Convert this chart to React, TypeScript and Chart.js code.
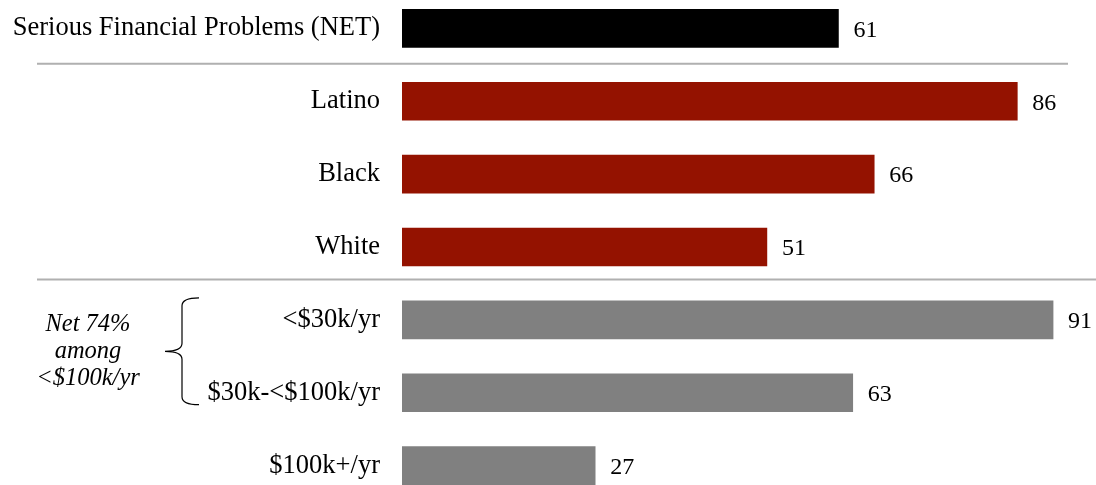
import React, { useEffect, useRef } from "react";
import { Chart, registerables } from "chart.js";

Chart.register(...registerables);

const categories = [
  "Serious Financial Problems (NET)",
  "Latino",
  "Black",
  "White",
  "<$30k/yr",
  "$30k-<$100k/yr",
  "$100k+/yr",
];
const values = [61, 86, 66, 51, 91, 63, 27];
const barColors = ["#000000", "#941200", "#941200", "#941200", "#808080", "#808080", "#808080"];
const annotationLines = ["Net 74%", "among", "<$100k/yr"];

const FONT = "'Liberation Serif', 'Times New Roman', serif";

const decorPlugin = {
  id: "decor",
  afterDatasetsDraw(chart: any) {
    const ctx = chart.ctx;
    const y = chart.scales.y;
    const meta = chart.getDatasetMeta(0);
    ctx.save();
    // category labels
    ctx.font = `26.5px ${FONT}`;
    ctx.fillStyle = "#000";
    ctx.textAlign = "right";
    ctx.textBaseline = "middle";
    categories.forEach((c, i) => {
      ctx.fillText(c, chart.chartArea.left - 22, y.getPixelForValue(i));
    });
    // value labels
    ctx.font = `24px ${FONT}`;
    ctx.textAlign = "left";
    meta.data.forEach((bar: any, i: number) => {
      ctx.fillText(String(values[i]), bar.x + 15, bar.y + 2);
    });
    // separators
    ctx.strokeStyle = "#b0b0b0";
    ctx.lineWidth = 2;
    const sep1 = (y.getPixelForValue(0) + y.getPixelForValue(1)) / 2 - 1;
    const sep2 = (y.getPixelForValue(3) + y.getPixelForValue(4)) / 2 - 4;
    ctx.beginPath();
    ctx.moveTo(37, sep1);
    ctx.lineTo(1068, sep1);
    ctx.moveTo(37, sep2);
    ctx.lineTo(1096, sep2);
    ctx.stroke();
    // brace
    const top = y.getPixelForValue(4) - 22;
    const bot = y.getPixelForValue(5) + 12;
    const mid = (top + bot) / 2;
    const xr = 199;
    const xm = 182;
    const xl = 165;
    ctx.strokeStyle = "#000";
    ctx.lineWidth = 1.2;
    ctx.beginPath();
    ctx.moveTo(xr, top);
    ctx.quadraticCurveTo(xm, top, xm, top + 8);
    ctx.lineTo(xm, mid - 8);
    ctx.quadraticCurveTo(xm, mid, xl, mid);
    ctx.quadraticCurveTo(xm, mid, xm, mid + 8);
    ctx.lineTo(xm, bot - 8);
    ctx.quadraticCurveTo(xm, bot, xr, bot);
    ctx.stroke();
    // annotation text
    ctx.font = `italic 24.5px ${FONT}`;
    ctx.textAlign = "center";
    ctx.fillStyle = "#000";
    annotationLines.forEach((t, i) => {
      ctx.fillText(t, 88, mid - 27 + i * 27);
    });
    ctx.restore();
  },
};

export default function App() {
  const ref = useRef<HTMLCanvasElement>(null);
  useEffect(() => {
    const chart = new Chart(ref.current!, {
      type: "bar",
      data: {
        labels: categories,
        datasets: [
          {
            data: values,
            backgroundColor: barColors,
            barThickness: 38,
          },
        ],
      },
      options: {
        indexAxis: "y",
        animation: false,
        responsive: false,
        layout: { padding: 0 },
        plugins: { legend: { display: false }, tooltip: { enabled: false } },
        scales: {
          x: { display: false, min: 0, max: 97 },
          y: {
            grid: { display: false, drawTicks: false },
            border: { display: false },
            ticks: { display: false },
            afterFit(s: any) {
              s.width = 402;
            },
          },
        },
      },
      plugins: [decorPlugin],
    });
    return () => chart.destroy();
  }, []);
  return (
    <div style={{ position: "fixed", left: 0, top: -8, width: 1096, height: 510, background: "#fff" }}>
      <canvas ref={ref} width={1096} height={510} />
    </div>
  );
}
